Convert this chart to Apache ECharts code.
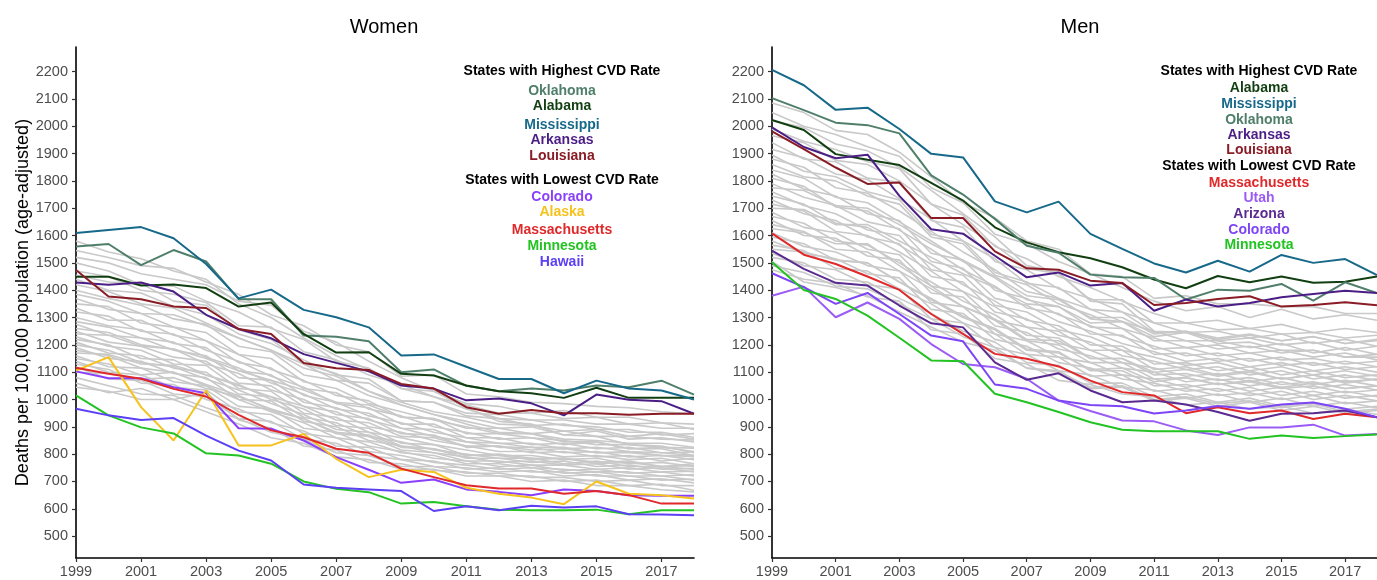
<!DOCTYPE html>
<html><head><meta charset="utf-8">
<script src="https://cdn.jsdelivr.net/npm/echarts@6/dist/echarts.min.js"></script>
<style>html,body{margin:0;padding:0;background:#fff}#c{width:1377px;height:580px}</style>
</head><body><div id="c"></div>
<script>
const years = ['1999','2000','2001','2002','2003','2004','2005','2006','2007','2008','2009','2010','2011','2012','2013','2014','2015','2016','2017','2018'];
const yTicks = [500,600,700,800,900,1000,1100,1200,1300,1400,1500,1600,1700,1800,1900,2000,2100,2200];

// ---- Women: highlighted states ----
const wOklahoma      = [1560,1569,1492,1547,1505,1367,1367,1234,1230,1213,1100,1110,1050,1030,1040,1033,1051,1045,1069,1018];
const wAlabama       = [1449,1449,1417,1421,1408,1340,1355,1240,1172,1173,1094,1088,1051,1030,1023,1006,1043,1006,1006,1006];
const wMississippi   = [1609,1620,1631,1590,1496,1370,1402,1328,1301,1264,1161,1165,1120,1075,1075,1023,1069,1040,1033,1000];
const wArkansas      = [1428,1420,1428,1395,1310,1258,1224,1166,1134,1103,1051,1040,997,1004,986,942,1018,999,994,948];
const wLouisiana     = [1474,1377,1367,1340,1335,1258,1240,1134,1114,1108,1057,1040,972,948,962,950,950,944,948,948];
const wColorado      = [1103,1078,1078,1045,1023,895,893,850,789,743,695,707,671,662,650,671,665,650,648,648];
const wAlaska        = [1106,1155,972,850,1033,832,832,874,783,716,743,735,677,655,641,617,700,655,650,638];
const wMassachusetts = [1116,1094,1076,1039,1011,944,887,862,820,805,747,716,686,674,674,655,665,650,619,619];
const wMinnesota     = [1015,942,898,876,803,795,765,700,673,661,619,625,609,597,595,595,597,580,595,595];
const wHawaii        = [966,942,925,932,868,813,777,689,677,671,665,592,609,595,611,605,609,580,579,576];

// ---- Women: other states (grey) ----
const wOthers = [
[1580,1540,1515,1470,1440,1350,1300,1225,1160,1110,1040,1010,965,930,925,905,900,880,880,862],
[1545,1520,1490,1480,1430,1385,1310,1270,1200,1175,1085,1090,1020,1010,990,985,975,970,955,948],
[1520,1500,1460,1440,1420,1360,1345,1250,1210,1140,1080,1030,970,920,910,870,865,835,830,805],
[1500,1470,1420,1415,1360,1320,1260,1220,1140,1115,1040,1030,985,975,950,960,935,935,915,910],
[1470,1450,1400,1385,1355,1270,1265,1175,1145,1090,1055,1010,980,950,950,930,935,910,915,890],
[1455,1430,1425,1360,1345,1255,1220,1130,1095,1030,980,945,910,880,875,845,845,820,820,795],
[1440,1400,1390,1340,1310,1240,1205,1145,1090,1075,995,990,940,930,905,910,890,890,870,875],
[1420,1395,1350,1335,1280,1225,1180,1115,1085,1030,990,955,935,910,905,885,890,865,875,855],
[1400,1370,1345,1295,1275,1195,1175,1090,1070,1015,980,945,920,895,900,870,885,855,860,845],
[1385,1360,1315,1310,1270,1225,1180,1130,1070,1060,995,990,950,945,925,925,910,910,895,895],
[1370,1330,1315,1265,1245,1165,1150,1065,1040,985,955,925,900,875,875,855,850,840,840,825],
[1350,1340,1280,1265,1215,1165,1110,1070,1015,995,935,930,875,875,860,850,835,835,825,822],
[1335,1290,1290,1235,1215,1135,1115,1040,1025,965,940,900,880,855,860,835,845,820,825,810],
[1320,1305,1250,1240,1180,1140,1085,1045,985,970,910,910,860,860,835,840,820,825,805,808],
[1300,1270,1255,1205,1190,1105,1090,1015,990,940,915,880,860,840,840,820,825,810,805,795],
[1285,1265,1225,1210,1155,1115,1060,1020,965,950,895,890,845,840,825,825,805,810,795,792],
[1275,1235,1225,1180,1160,1080,1070,990,970,925,895,865,845,825,825,805,810,790,795,780],
[1260,1245,1200,1185,1130,1095,1035,1000,945,930,875,870,825,830,805,810,790,795,775,785],
[1250,1210,1195,1155,1140,1060,1050,975,955,900,880,850,830,810,810,790,795,780,785,765],
[1240,1235,1195,1185,1150,1105,1070,1035,990,980,935,930,895,895,875,885,865,865,855,852],
[1230,1195,1180,1130,1125,1040,1030,950,935,880,860,835,815,795,795,780,785,765,770,755],
[1220,1200,1150,1145,1090,1055,1000,965,905,895,840,835,795,800,785,785,765,770,755,758],
[1210,1170,1160,1115,1100,1020,1010,935,915,865,845,815,800,785,785,765,775,755,755,745],
[1200,1180,1135,1120,1075,1035,985,945,890,880,830,820,785,785,770,775,755,760,745,748],
[1190,1150,1140,1095,1080,1000,995,920,900,850,830,805,790,770,775,760,765,745,750,735],
[1180,1160,1115,1100,1055,1015,960,930,875,865,815,805,775,775,760,760,745,750,735,738],
[1170,1165,1130,1125,1090,1050,1010,975,925,915,865,860,830,830,815,820,805,805,795,795],
[1160,1120,1115,1065,1050,975,965,895,880,830,810,785,775,755,760,740,745,730,735,720],
[1150,1130,1090,1100,1050,1000,955,915,860,845,805,795,765,765,750,745,735,735,720,725],
[1140,1100,1090,1045,1035,955,945,875,860,810,795,770,760,745,750,730,735,720,720,705],
[1130,1110,1060,1055,1000,965,915,885,830,825,780,775,745,750,735,735,720,720,705,708],
[1120,1075,1070,1020,1010,930,920,855,840,795,780,755,750,735,740,720,725,705,710,695],
[1100,1095,1075,1080,1040,1010,965,930,880,870,825,820,795,795,780,785,770,775,755,765],
[1080,1050,1020,1015,970,930,880,855,805,795,755,755,730,730,715,715,700,705,685,685],
[1060,1025,1040,1000,1025,925,895,830,815,770,765,740,735,720,720,700,705,685,690,668],
[1045,1030,1000,1000,955,910,860,840,790,780,745,745,720,720,700,705,685,685,670,662]
];

// ---- Men: highlighted states ----
const mAlabama       = [2023,1986,1898,1877,1858,1793,1728,1630,1575,1539,1517,1484,1439,1407,1452,1429,1450,1427,1431,1450];
const mMississippi   = [2206,2150,2060,2068,1990,1899,1886,1725,1685,1724,1606,1551,1498,1465,1508,1468,1529,1500,1514,1455];
const mOklahoma      = [2103,2059,2013,2004,1974,1820,1750,1661,1563,1537,1457,1447,1445,1366,1402,1398,1423,1362,1429,1390];
const mArkansas      = [1996,1924,1883,1896,1745,1623,1607,1526,1447,1465,1417,1426,1325,1366,1340,1353,1374,1386,1398,1390];
const mLouisiana     = [1981,1916,1849,1789,1794,1664,1664,1542,1480,1475,1435,1426,1346,1353,1368,1378,1340,1346,1356,1345];
const mMassachusetts = [1608,1530,1496,1450,1401,1313,1240,1167,1149,1121,1069,1027,1015,950,972,950,960,929,948,935];
const mUtah          = [1380,1413,1301,1355,1295,1203,1130,1118,1076,996,958,923,920,887,870,898,898,908,868,874];
const mArizona       = [1545,1478,1427,1417,1344,1279,1264,1136,1072,1096,1033,990,996,982,954,922,948,950,960,935];
const mColorado      = [1462,1411,1350,1390,1313,1234,1213,1055,1039,996,980,975,949,960,976,966,982,989,966,935];
const mMinnesota     = [1502,1401,1368,1307,1226,1143,1140,1021,990,954,917,889,884,884,884,856,868,859,866,872];

// ---- Men: other states (grey) ----
const mOthers = [
[2085,2050,1985,1970,1905,1815,1720,1665,1580,1550,1460,1450,1370,1380,1350,1350,1340,1340,1315,1315],
[2050,2000,1970,1925,1890,1775,1720,1605,1570,1505,1460,1410,1360,1325,1340,1300,1330,1295,1310,1290],
[2020,1995,1935,1910,1850,1765,1680,1595,1490,1465,1360,1350,1250,1245,1205,1210,1180,1180,1155,1155],
[1990,1945,1915,1870,1845,1715,1675,1560,1515,1450,1410,1360,1315,1280,1290,1260,1275,1245,1260,1245],
[1965,1940,1875,1860,1800,1715,1640,1565,1480,1460,1365,1365,1280,1280,1255,1260,1240,1245,1225,1235],
[1940,1880,1870,1810,1795,1655,1630,1505,1475,1405,1370,1320,1280,1245,1250,1225,1240,1205,1220,1195],
[1915,1885,1825,1805,1735,1660,1580,1515,1425,1410,1330,1320,1245,1250,1215,1225,1200,1210,1180,1195],
[1895,1835,1815,1760,1730,1605,1580,1465,1430,1370,1330,1285,1250,1215,1215,1190,1205,1170,1190,1165],
[1880,1850,1775,1755,1690,1615,1540,1475,1395,1370,1295,1285,1215,1215,1185,1195,1170,1180,1155,1165],
[1860,1815,1800,1745,1715,1595,1570,1455,1420,1350,1310,1260,1225,1190,1200,1170,1180,1155,1170,1145],
[1840,1810,1740,1720,1650,1580,1505,1445,1365,1340,1265,1260,1185,1190,1160,1170,1145,1150,1130,1140],
[1825,1770,1745,1680,1655,1535,1510,1400,1370,1310,1270,1230,1195,1160,1170,1140,1155,1125,1140,1120],
[1810,1780,1705,1690,1620,1550,1475,1415,1335,1315,1240,1235,1165,1170,1140,1150,1125,1135,1110,1120],
[1790,1740,1710,1650,1625,1505,1480,1370,1345,1285,1250,1205,1175,1140,1150,1120,1135,1105,1120,1100],
[1775,1765,1710,1700,1640,1570,1510,1450,1380,1365,1300,1300,1240,1250,1225,1240,1215,1230,1205,1215],
[1760,1710,1680,1620,1600,1475,1455,1345,1320,1255,1230,1180,1155,1125,1135,1105,1120,1090,1105,1085],
[1745,1715,1645,1630,1565,1495,1420,1360,1290,1270,1200,1195,1130,1135,1105,1120,1090,1105,1080,1090],
[1730,1680,1655,1595,1570,1450,1430,1320,1295,1235,1210,1160,1140,1110,1120,1090,1105,1075,1090,1070],
[1715,1690,1615,1600,1540,1470,1395,1340,1265,1250,1180,1180,1110,1120,1090,1105,1075,1090,1060,1075],
[1700,1695,1640,1640,1580,1520,1460,1410,1350,1340,1280,1285,1230,1245,1220,1235,1215,1230,1205,1220],
[1685,1630,1610,1550,1530,1415,1395,1290,1265,1205,1180,1135,1115,1085,1095,1065,1080,1055,1070,1050],
[1670,1645,1580,1565,1500,1430,1360,1310,1235,1225,1150,1150,1090,1095,1070,1080,1055,1065,1040,1050],
[1655,1600,1590,1525,1510,1390,1375,1270,1245,1185,1160,1115,1100,1065,1075,1050,1065,1040,1055,1035],
[1640,1615,1550,1540,1470,1405,1340,1290,1215,1200,1135,1135,1075,1080,1055,1065,1040,1050,1025,1035],
[1625,1610,1570,1570,1490,1415,1340,1295,1220,1215,1150,1150,1100,1110,1085,1100,1075,1090,1065,1075],
[1610,1560,1540,1490,1470,1355,1340,1240,1215,1155,1135,1090,1075,1045,1060,1030,1045,1015,1030,1010],
[1595,1570,1510,1500,1430,1370,1305,1260,1185,1175,1105,1105,1050,1055,1030,1045,1015,1030,1005,1015],
[1580,1535,1515,1460,1445,1330,1315,1220,1195,1135,1115,1075,1060,1030,1040,1015,1030,1000,1015,995],
[1565,1545,1480,1470,1405,1350,1280,1240,1165,1155,1085,1090,1030,1040,1015,1025,1000,1015,985,995],
[1550,1540,1510,1500,1430,1365,1300,1255,1180,1170,1110,1115,1065,1080,1055,1070,1045,1060,1040,1050],
[1535,1490,1475,1420,1405,1295,1280,1190,1165,1105,1090,1045,1035,1005,1020,990,1005,975,990,970],
[1520,1500,1440,1430,1370,1315,1250,1210,1135,1125,1060,1060,1010,1020,990,1005,975,990,965,975],
[1505,1430,1410,1380,1320,1265,1210,1180,1115,1100,1045,1050,1000,1010,985,995,970,985,955,965],
[1490,1465,1415,1405,1350,1295,1230,1190,1115,1105,1040,1045,995,1005,975,990,960,975,950,960],
[1475,1440,1425,1375,1360,1255,1240,1150,1130,1070,1055,1020,1010,980,990,965,975,950,965,945]
];

const womenHi = [
  ['Oklahoma', wOklahoma, '#4f7f6a'],
  ['Alabama', wAlabama, '#123f12'],
  ['Mississippi', wMississippi, '#17698a'],
  ['Arkansas', wArkansas, '#4b1e86'],
  ['Louisiana', wLouisiana, '#8a1c26'],
  ['Colorado', wColorado, '#8a3ffc'],
  ['Alaska', wAlaska, '#f6c21e'],
  ['Massachusetts', wMassachusetts, '#e0292b'],
  ['Minnesota', wMinnesota, '#22c322'],
  ['Hawaii', wHawaii, '#5b3ff5']
];
const menHi = [
  ['Alabama', mAlabama, '#123f12'],
  ['Mississippi', mMississippi, '#17698a'],
  ['Oklahoma', mOklahoma, '#4f7f6a'],
  ['Arkansas', mArkansas, '#4b1e86'],
  ['Louisiana', mLouisiana, '#8a1c26'],
  ['Massachusetts', mMassachusetts, '#e0292b'],
  ['Utah', mUtah, '#9a5cf5'],
  ['Arizona', mArizona, '#5a2a90'],
  ['Colorado', mColorado, '#7d45f5'],
  ['Minnesota', mMinnesota, '#22c322']
];

const GREY = '#c9c9c9';
const series = [];
function addPanel(idx, others, hi) {
  others.forEach((d, i) => series.push({
    name: 'other' + idx + '_' + i, type: 'line', xAxisIndex: idx, yAxisIndex: idx,
    data: d, symbol: 'none', silent: true, lineStyle: { color: GREY, width: 1.6 }, z: 1
  }));
  hi.forEach(h => series.push({
    name: h[0] + idx, type: 'line', xAxisIndex: idx, yAxisIndex: idx,
    data: h[1], symbol: 'none', silent: true, lineStyle: { color: h[2], width: 2 }, z: 3
  }));
}
addPanel(0, wOthers, womenHi);
addPanel(1, mOthers, menHi);

const FONT = '"Liberation Sans", Arial, sans-serif';
function xAxis(i) {
  return {
    gridIndex: i, type: 'category', data: years, boundaryGap: false,
    axisLine: { lineStyle: { color: '#000', width: 1.6 } },
    axisTick: { interval: 1, length: 4, lineStyle: { color: '#333', width: 1.2 } },
    axisLabel: { interval: 1, color: '#4d4d4d', fontSize: 14.5, margin: 6, fontFamily: FONT },
    splitLine: { show: false }
  };
}
function yAxis(i, withName) {
  const a = {
    gridIndex: i, type: 'value', min: 420, max: 2290,
    axisLine: { show: true, lineStyle: { color: '#000', width: 1.6 } },
    axisTick: { show: true, length: 4, customValues: yTicks, lineStyle: { color: '#333', width: 1.2 } },
    axisLabel: { customValues: yTicks, formatter: v => String(v), color: '#4d4d4d', fontSize: 14.5, margin: 8, fontFamily: FONT },
    splitLine: { show: false }
  };
  if (withName) {
    a.name = 'Deaths per 100,000 population (age-adjusted)';
    a.nameLocation = 'middle';
    a.nameGap = 42;
    a.nameTextStyle = { fontSize: 18, color: '#000', fontFamily: FONT };
  }
  return a;
}

const graphics = [];
graphics.push({ type: 'text', x: 384, y: 27, silent: true, style: { text: 'Women', fill: '#000', font: '20px ' + FONT, textAlign: 'center', textVerticalAlign: 'middle' } });
graphics.push({ type: 'text', x: 1080, y: 27, silent: true, style: { text: 'Men', fill: '#000', font: '20px ' + FONT, textAlign: 'center', textVerticalAlign: 'middle' } });

const wLegendY = [91,106,125,140,156];
const wLegendY2 = [197,212,230,246,262];
const mLegendY = [88,104,120,135,150];
const mLegendY2 = [183,198,214,230,245];
function legendText(cx, y, s, color) {
  return { type: 'text', x: cx, y: y, silent: true, style: { text: s, fill: color, font: 'bold 14px ' + FONT, textAlign: 'center', textVerticalAlign: 'middle' } };
}
graphics.push(legendText(562, 71, 'States with Highest CVD Rate', '#000'));
graphics.push(legendText(562, 180, 'States with Lowest CVD Rate', '#000'));
womenHi.forEach((h, i) => graphics.push(legendText(562, i < 5 ? wLegendY[i] : wLegendY2[i - 5], h[0], h[2])));
graphics.push(legendText(1259, 71, 'States with Highest CVD Rate', '#000'));
graphics.push(legendText(1259, 166, 'States with Lowest CVD Rate', '#000'));
menHi.forEach((h, i) => graphics.push(legendText(1259, i < 5 ? mLegendY[i] : mLegendY2[i - 5], h[0], h[2])));

const chart = echarts.init(document.getElementById('c'), null, { renderer: 'canvas' });
chart.setOption({
  animation: false,
  backgroundColor: '#fff',
  grid: [
    { left: 76, top: 47, width: 618, height: 511 },
    { left: 772, top: 47, width: 617, height: 511 }
  ],
  xAxis: [xAxis(0), xAxis(1)],
  yAxis: [yAxis(0, true), yAxis(1, false)],
  series: series,
  graphic: graphics
});
</script>
</body></html>
